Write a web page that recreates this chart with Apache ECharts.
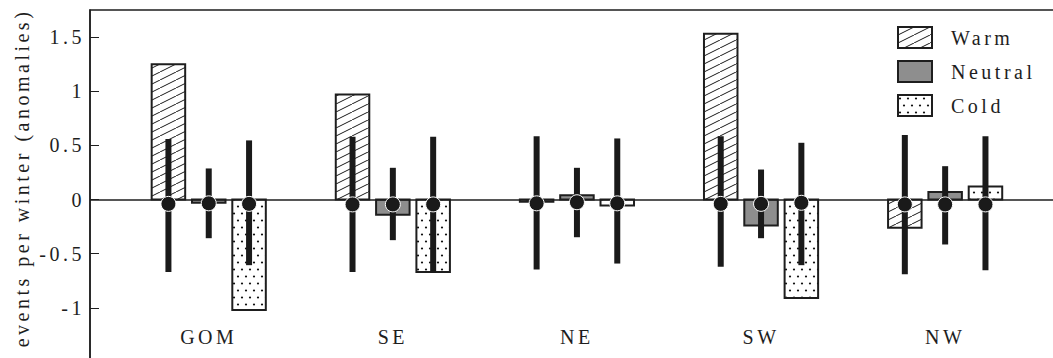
<!DOCTYPE html>
<html><head><meta charset="utf-8">
<script src="https://cdn.jsdelivr.net/npm/echarts@6/dist/echarts.min.js"></script>
<style>
html,body{margin:0;padding:0;background:#fff;}
#c{width:1053px;height:358px;}
#c svg text{letter-spacing:3.5px;}
</style></head><body><div id="c"></div>
<script>
// ---- data ----
const categories = ['GOM', 'SE', 'NE', 'SW', 'NW'];
const seriesNames = ['Warm', 'Neutral', 'Cold'];
const warm    = [1.25, 0.97, -0.02, 1.53, -0.26];
const neutral = [-0.03, -0.14, 0.04, -0.24, 0.07];
const cold    = [-1.02, -0.67, -0.055, -0.91, 0.12];
const warmMean    = [-0.04, -0.045, -0.035, -0.04, -0.045];
const warmLow     = [-0.67, -0.67, -0.645, -0.62, -0.69];
const warmHigh    = [0.56, 0.58, 0.585, 0.585, 0.595];
const neutralMean = [-0.035, -0.045, -0.025, -0.04, -0.045];
const neutralLow  = [-0.357, -0.375, -0.348, -0.357, -0.415];
const neutralHigh = [0.287, 0.293, 0.293, 0.277, 0.308];
const coldMean    = [-0.04, -0.045, -0.035, -0.03, -0.045];
const coldLow     = [-0.606, -0.677, -0.591, -0.606, -0.652];
const coldHigh    = [0.546, 0.579, 0.564, 0.524, 0.585];
const yTickLabels = ['-1', '-0.5', '0', '0.5', '1', '1.5'];
const yTitle = 'events per winter (anomalies)';

// ---- patterns ----
function hatchPattern() {
  const c = document.createElement('canvas');
  c.width = 16; c.height = 8;
  const g = c.getContext('2d');
  g.fillStyle = '#fff'; g.fillRect(0, 0, 16, 8);
  g.strokeStyle = '#1a1a1a'; g.lineWidth = 1;
  for (const dx of [-16, 0, 16]) {
    g.beginPath(); g.moveTo(dx, 8); g.lineTo(dx + 16, 0); g.stroke();
  }
  return { image: c, repeat: 'repeat' };
}
function dotPattern() {
  const c = document.createElement('canvas');
  c.width = 8; c.height = 14;
  const g = c.getContext('2d');
  g.fillStyle = '#fff'; g.fillRect(0, 0, 8, 14);
  g.fillStyle = '#111';
  g.beginPath(); g.arc(2, 3.5, 1.1, 0, Math.PI * 2); g.fill();
  g.beginPath(); g.arc(6, 10.5, 1.1, 0, Math.PI * 2); g.fill();
  return { image: c, repeat: 'repeat' };
}
const fills = [hatchPattern(), '#8e8e8e', dotPattern()];
const barValues = [warm, neutral, cold];
const errs = [[warmLow, warmHigh, warmMean], [neutralLow, neutralHigh, neutralMean], [coldLow, coldHigh, coldMean]];

const BAR_STEP = 0.219, BAR_W = 0.182;
const FONT = 'Liberation Serif';
const INK = '#1e1e1e';

function barRender(k) {
  return function (params, api) {
    const x = api.value(0) + (k - 1) * BAR_STEP;
    const base = api.coord([x, 0]);
    const top = api.coord([x, api.value(1)]);
    const w = api.size([BAR_W, 0])[0];
    return {
      type: 'rect',
      shape: { x: base[0] - w / 2, y: Math.min(base[1], top[1]), width: w, height: Math.abs(base[1] - top[1]) },
      style: { fill: fills[k], stroke: INK, lineWidth: 2 }
    };
  };
}
function errRender(k) {
  return function (params, api) {
    const x = api.value(0) + (k - 1) * BAR_STEP;
    const lo = api.coord([x, api.value(1)]);
    const hi = api.coord([x, api.value(2)]);
    const m = api.coord([x, api.value(3)]);
    return {
      type: 'group',
      children: [
        { type: 'line', shape: { x1: lo[0], y1: lo[1], x2: hi[0], y2: hi[1] }, style: { stroke: '#1a1a1a', lineWidth: 6 } },
        { type: 'circle', shape: { cx: m[0], cy: m[1], r: 7.5 }, style: { fill: '#1a1a1a', stroke: '#fff', lineWidth: 1 } }
      ]
    };
  };
}

const series = [];
seriesNames.forEach((name, k) => {
  const s = {
    name: name,
    type: 'custom',
    renderItem: barRender(k),
    itemStyle: { color: fills[k], borderColor: INK, borderWidth: 2 },
    encode: { x: 0, y: 1 },
    data: categories.map((c, i) => [i + 1, barValues[k][i]]),
    z: 2
  };
  if (k === 0) {
    s.markLine = {
      silent: true, symbol: ['none', 'none'], label: { show: false },
      lineStyle: { color: INK, width: 1.5, type: 'solid' },
      data: [{ yAxis: 0 }]
    };
  }
  series.push(s);
});
seriesNames.forEach((name, k) => {
  series.push({
    name: name + ' err',
    type: 'custom',
    renderItem: errRender(k),
    encode: { x: 0, y: [1, 2, 3] },
    data: categories.map((c, i) => [i + 1, errs[k][0][i], errs[k][1][i], errs[k][2][i]]),
    z: 5
  });
});

const chart = echarts.init(document.getElementById('c'), null, { renderer: 'svg' });
chart.setOption({
  animation: false,
  backgroundColor: '#fff',
  grid: { left: 90, top: 10, right: -5, bottom: -4, outerBoundsMode: 'none', show: true, borderColor: INK, borderWidth: 1.5, backgroundColor: 'transparent' },
  legend: {
    data: seriesNames, orient: 'vertical', left: 892, top: 21,
    itemWidth: 34, itemHeight: 21, itemGap: 11, icon: 'rect',
    textStyle: { fontFamily: FONT, fontSize: 20, color: INK, padding: [0, 0, 0, 14] }
  },
  graphic: [{
    type: 'text', x: 22, y: 178, rotation: Math.PI / 2, silent: true,
    style: { text: yTitle, fontFamily: FONT, fontSize: 20, fill: INK, align: 'center', verticalAlign: 'middle' }
  }],
  xAxis: {
    type: 'value', min: 0.355, max: 5.613,
    axisLine: { show: false }, axisTick: { show: false }, splitLine: { show: false },
    axisLabel: {
      customValues: categories.map((c, i) => i + 1),
      inside: true, margin: 15,
      formatter: v => categories[Math.round(v) - 1],
      fontFamily: FONT, fontSize: 20, color: INK
    }
  },
  yAxis: {
    type: 'value', min: -1.5, max: 1.75, interval: 0.5,
    axisLine: { show: true, lineStyle: { color: INK, width: 1.5 } },
    axisTick: { show: true, inside: true, length: 9, lineStyle: { color: INK, width: 1 } },
    splitLine: { show: false },
    axisLabel: {
      margin: 5, showMaxLabel: false, showMinLabel: false,
      fontFamily: FONT, fontSize: 20, color: INK,
      formatter: v => {
        const s = yTickLabels.find(t => Math.abs(parseFloat(t) - v) < 1e-9);
        return s === undefined ? '' : s;
      }
    }
  },
  series: series
});
</script></body></html>
